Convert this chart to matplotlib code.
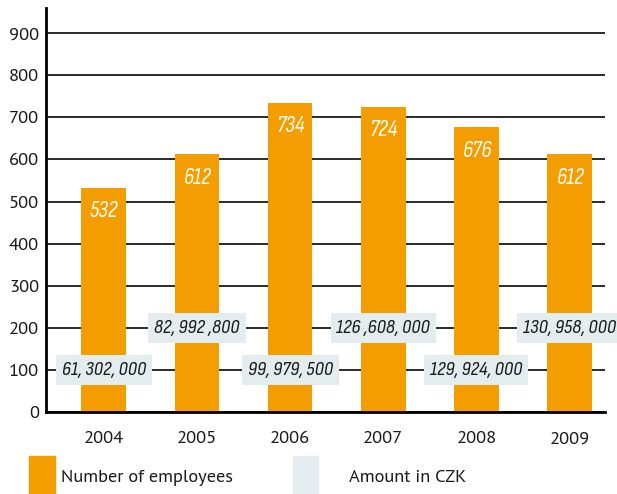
import matplotlib
matplotlib.use("Agg")
import matplotlib.pyplot as plt
from matplotlib.patches import Rectangle

# employees per year and the amount paid out (CZK)
years = ["2004", "2005", "2006", "2007", "2008", "2009"]
employees = [532, 612, 734, 724, 676, 612]
amount_labels = ["61, 302, 000", "82, 992 ,800", "99, 979, 500",
                 "126 ,608, 000", "129, 924, 000", "130, 958, 000"]
amount_levels = [100, 200, 100, 200, 100, 200]
y_ticks = [0, 100, 200, 300, 400, 500, 600, 700, 800, 900]

orange = "#f39d00"
pale = "#e3ecee"
text_font = ["PT Sans", "DejaVu Sans"]
num_font = ["Sofia Sans Condensed", "DejaVu Sans"]

fig = plt.figure(figsize=(6.17, 4.94), dpi=100)
ax = fig.add_axes([0.0746, 0.166, 0.906, 0.818])

x = range(len(years))
ax.bar(x, employees, width=0.48, color=orange, zorder=2)

for i, v in enumerate(employees):
    ax.text(i, v - 55, str(v), ha="center", va="center", color="#fffbf0",
            fontsize=17, style="italic", family=num_font, zorder=3)

for i, (lab, lev) in enumerate(zip(amount_labels, amount_levels)):
    ax.text(i, lev, lab, ha="center", va="center", color="#1a1a1a",
            fontsize=15, style="italic", family=num_font, zorder=4,
            bbox=dict(boxstyle="square,pad=0.28", fc=pale, ec="none"))

ax.set_xlim(-0.62, 5.38)
ax.set_ylim(0, 960)
ax.set_yticks(y_ticks)
ax.set_xticks(list(x))
ax.set_xticklabels(years)
ax.yaxis.grid(True, color="#2a2a2a", linewidth=1.4, zorder=1)
ax.set_axisbelow(True)
ax.tick_params(length=0, labelsize=13.3, colors="#1a1a1a")
ax.tick_params(axis="x", pad=14)
ax.tick_params(axis="y", pad=5)
for lab in ax.get_xticklabels() + ax.get_yticklabels():
    lab.set_family(text_font)

for side in ["top", "right"]:
    ax.spines[side].set_visible(False)
ax.spines["left"].set_linewidth(2)
ax.spines["bottom"].set_linewidth(2)

# legend drawn as figure patches running off the bottom edge
fig.patches.append(Rectangle((0.047, -0.01), 0.042, 0.087, color=orange,
                             transform=fig.transFigure, figure=fig))
fig.patches.append(Rectangle((0.475, -0.01), 0.041, 0.087, color=pale,
                             transform=fig.transFigure, figure=fig))
fig.text(0.099, 0.032, "Number of employees", fontsize=13.2, va="center",
         color="#1a1a1a", family=text_font)
fig.text(0.566, 0.032, "Amount in CZK", fontsize=13.2, va="center",
         color="#1a1a1a", family=text_font)

fig.savefig("out.png", dpi=100)
